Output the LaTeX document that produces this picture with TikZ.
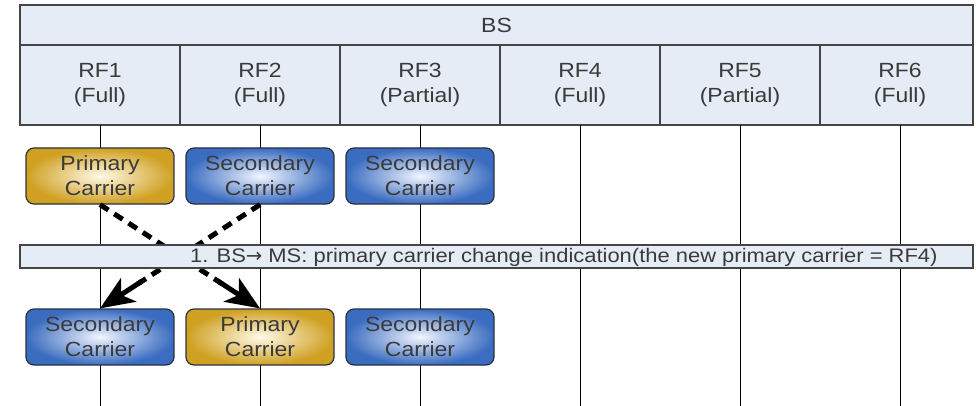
\documentclass[tikz,border=0pt]{standalone}
\usepackage{fontspec}
\setmainfont[FakeStretch=1.12]{Liberation Sans}
\newfontfamily\arrowfont{DejaVu Sans}
\usetikzlibrary{arrows.meta,calc}
\definecolor{hdr}{HTML}{E6ECF6}
\definecolor{hdrline}{HTML}{454545}
\definecolor{txt}{HTML}{3A3A3A}
\definecolor{blueout}{HTML}{3A6CC0}
\definecolor{bluein}{HTML}{F2F6FF}
\definecolor{goldout}{HTML}{CFA021}
\definecolor{goldin}{HTML}{FFF9E8}
\definecolor{carrline}{HTML}{2A3040}
\begin{document}
\begin{tikzpicture}[x=1pt,y=-1pt,
  cell/.style={draw=hdrline, line width=1.5pt, fill=hdr},
  celltext/.style={text=txt, font=\fontsize{20.5}{25}\selectfont, align=center},
  lifeline/.style={draw=black, line width=1pt},
  carrier/.style={rectangle, rounded corners=8pt, draw=carrline, line width=1.2pt,
    minimum width=148pt, minimum height=56pt, text=txt, align=center,
    font=\fontsize{20.5}{25}\selectfont, inner sep=0pt},
  prim/.style={carrier, inner color=goldin, outer color=goldout},
  sec/.style={carrier, inner color=bluein, outer color=blueout},
  dashline/.style={line width=5pt, dash pattern=on 10pt off 7pt, black},
  headtip/.style={line width=5pt, black, solid,
    -{Stealth[length=34pt,width=28pt,inset=9pt]}},
  msgtext/.style={text=txt, font=\fontsize{19.6}{22}\selectfont, inner sep=0pt}
]
\useasboundingbox (0,0) rectangle (976,406);
\fill[white] (0,0) rectangle (976,406);

% header
\draw[cell] (20,5) rectangle (973,45);
\node[celltext] (bs) at (496.5,25) {BS};
\foreach \i/\xa/\xb/\lab in {1/20/180/Full, 2/180/340/Full, 3/340/500/Partial,
                            4/500/660/Full, 5/660/820/Partial, 6/820/973/Full}{
  \draw[cell] (\xa,45) rectangle (\xb,125);
  \node[celltext] (rf\i) at ({\i*160-60},85) {RF\i\\(\lab)};
  \coordinate (top\i) at ({\i*160-60},125);
  \coordinate (bot\i) at ({\i*160-60},406);
  \draw[lifeline] (top\i) -- (bot\i);
}

% top carriers
\node[prim] (pA) at (100,176) {Primary\\Carrier};
\node[sec]  (sA) at (260,176) {Secondary\\Carrier};
\node[sec]  (tA) at (420,176) {Secondary\\Carrier};

% bottom carriers
\node[sec]  (sB) at (100,337) {Secondary\\Carrier};
\node[prim] (pB) at (260,337) {Primary\\Carrier};
\node[sec]  (tB) at (420,337) {Secondary\\Carrier};

% arrows
\draw[dashline] (pA.south) -- ($(pA.south)!0.78!(pB.north)$);
\draw[headtip] ($(pA.south)!0.74!(pB.north)$) -- (pB.north);
\draw[dashline] (sA.south) -- ($(sA.south)!0.78!(sB.north)$);
\draw[headtip] ($(sA.south)!0.74!(sB.north)$) -- (sB.north);

% message bar
\draw[draw=hdrline, line width=1.3pt, fill=hdr] (20,245) rectangle (973,268);
\node[msgtext, anchor=west] (msg) at (190,257) {1. BS{\arrowfont →} MS: primary carrier change indication(the new primary carrier = RF4)};
\end{tikzpicture}
\end{document}
